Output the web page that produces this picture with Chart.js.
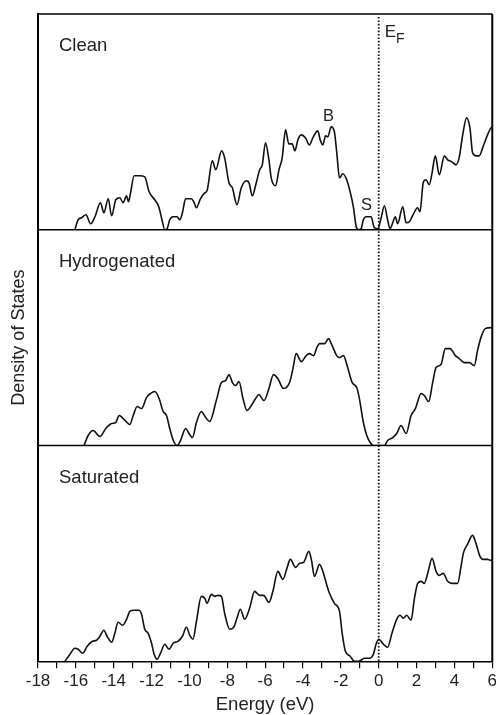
<!DOCTYPE html>
<html>
<head>
<meta charset="utf-8">
<title>Density of States</title>
<script src="https://cdn.jsdelivr.net/npm/chart.js@4.4.0/dist/chart.umd.min.js"></script>
<style>
	html, body { margin: 0; padding: 0; background: #fff; overflow: hidden; }
	#chart-wrap { width: 500px; height: 715px; position: relative; }
</style>
</head>
<body>
<div id="chart-wrap"><canvas id="dos-chartcanvas"></canvas></div>
<script>
"use strict";

// energy axis (eV)
var energyMin = -18;
var energyMax = 6;
var energyStep = 1;

// panel names, top to bottom
var panelNames = ["Clean", "Hydrogenated", "Saturated"];

// Clean surface
var cleanEnergy = [-16.05, -15.88, -15.7, -15.47, -15.22, -14.99, -14.7, -14.52, -14.29, -14.11,
	-13.89, -13.68, -13.5, -13.32, -13.22, -13.11, -12.92, -12.62, -12.36, -12.13,
	-11.83, -11.62, -11.45, -11.3, -11.18, -11.04, -10.86, -10.65, -10.51, -10.37,
	-10.2, -9.9, -9.77, -9.63, -9.42, -9.19, -9.07, -8.79, -8.61, -8.3,
	-8.14, -7.91, -7.73, -7.49, -7.26, -6.99, -6.85, -6.68, -6.47, -6.29,
	-6.15, -5.98, -5.8, -5.68, -5.45, -5.27, -5.1, -4.92, -4.75, -4.57,
	-4.43, -4.27, -4.09, -3.87, -3.66, -3.48, -3.22, -3.09, -2.95, -2.81,
	-2.69, -2.51, -2.34, -2.22, -2.07, -1.9, -1.69, -1.51, -1.33, -1.19,
	-1.05, -0.93, -0.81, -0.66, -0.4, -0.23, -0.05, 0.13, 0.3, 0.47,
	0.6, 0.74, 0.88, 1.0, 1.27, 1.45, 1.62, 1.79, 2.06, 2.18,
	2.36, 2.5, 2.67, 2.82, 2.99, 3.2, 3.47, 3.64, 3.87, 4.08,
	4.26, 4.43, 4.64, 4.82, 4.96, 5.14, 5.31, 5.49, 5.75, 5.93, 6.0];
var cleanDos = [0, 1.0, 1.2, 1.5, 0.6, 1.3, 2.7, 1.7, 3.1, 1.4,
	3.0, 3.2, 2.7, 3.4, 2.8, 3.7, 5.4, 5.4, 5.3, 3.8,
	3.0, 2.3, 1.0, 0, 0.1, 1.0, 1.3, 1.3, 1.0, 1.7,
	3.1, 3.1, 2.8, 2.2, 3.1, 3.7, 3.9, 6.9, 6.0, 7.9,
	7.2, 4.7, 4.2, 2.5, 4.2, 4.9, 4.7, 3.4, 4.7, 6.0,
	6.5, 8.7, 7.0, 5.2, 4.4, 6.0, 7.2, 10.0, 8.6, 8.6,
	7.9, 9.0, 9.5, 9.2, 8.5, 9.2, 9.9, 9.0, 8.5, 9.4,
	9.3, 10.3, 9.8, 7.8, 5.2, 5.6, 5.0, 3.8, 2.2, 0.3,
	0, 0.1, 1.0, 1.3, 1.3, 0.2, 0.1, 1.2, 2.4, 1.0,
	0.1, 0.7, 1.3, 0.6, 2.3, 0.7, 0.8, 1.4, 2.2, 1.8,
	4.8, 5.0, 4.5, 5.7, 7.4, 5.5, 7.4, 7.0, 6.8, 6.5,
	7.3, 9.4, 11.2, 10.2, 7.7, 7.4, 7.4, 8.2, 9.5, 10.2, 10.3];

// Hydrogenated surface
var hydroEnergy = [-15.57, -15.35, -15.09, -14.73, -14.42, -14.11, -13.89, -13.71, -13.5, -13.15,
	-12.97, -12.76, -12.53, -12.27, -12.06, -11.83, -11.6, -11.39, -11.21, -11.04,
	-10.83, -10.65, -10.47, -10.2, -10.02, -9.84, -9.63, -9.37, -9.14, -8.93,
	-8.58, -8.31, -8.09, -7.91, -7.73, -7.56, -7.38, -7.17, -6.96, -6.73,
	-6.5, -6.33, -6.06, -5.8, -5.56, -5.33, -5.03, -4.71, -4.53, -4.36,
	-4.09, -3.83, -3.66, -3.44, -3.27, -3.13, -2.86, -2.65, -2.46, -2.22,
	-2.07, -1.86, -1.64, -1.4, -1.16, -1.02, -0.81, -0.63, -0.45, -0.28,
	0.3, 0.47, 0.74, 0.95, 1.18, 1.45, 1.71, 1.94, 2.24, 2.41,
	2.64, 2.85, 3.03, 3.29, 3.52, 3.77, 4.05, 4.26, 4.52, 4.79,
	5.05, 5.22, 5.4, 5.63, 5.93, 6.0];
var hydroDos = [0, 1.0, 1.5, 0.9, 1.7, 2.2, 2.3, 3.0, 2.7, 2.1,
	3.0, 3.9, 3.7, 4.8, 5.2, 5.4, 4.7, 3.4, 3.0, 1.7,
	0.4, 0, 0.5, 1.7, 1.2, 0.8, 2.3, 3.4, 2.8, 2.4,
	4.5, 6.3, 6.5, 7.1, 6.3, 6.0, 6.4, 4.7, 3.5, 4.0,
	4.7, 5.1, 4.5, 5.7, 7.1, 6.7, 5.7, 6.3, 7.7, 9.2,
	8.4, 9.0, 9.2, 9.0, 9.8, 10.2, 10.2, 10.7, 10.0, 9.0,
	8.8, 9.0, 7.8, 6.3, 5.8, 4.7, 2.3, 1.0, 0.3, 0,
	0, 0.5, 0.8, 1.2, 2.0, 1.2, 3.0, 3.7, 5.2, 5.0,
	4.4, 6.3, 7.8, 8.1, 9.7, 9.7, 9.0, 8.7, 8.3, 8.3,
	8.0, 9.5, 10.8, 11.7, 11.8, 11.8];

// Saturated surface
var satEnergy = [-16.58, -16.31, -16.05, -15.88, -15.64, -15.4, -15.12, -14.91, -14.73, -14.52,
	-14.35, -14.11, -13.94, -13.77, -13.53, -13.32, -13.15, -12.94, -12.66, -12.53,
	-12.36, -12.18, -12.0, -11.88, -11.71, -11.53, -11.3, -11.08, -10.86, -10.6,
	-10.37, -10.16, -9.98, -9.81, -9.63, -9.37, -9.19, -9.07, -8.84, -8.66,
	-8.49, -8.31, -8.14, -7.87, -7.66, -7.49, -7.31, -7.08, -6.82, -6.56,
	-6.29, -6.08, -5.8, -5.59, -5.33, -5.06, -4.85, -4.67, -4.39, -4.18,
	-3.97, -3.69, -3.56, -3.39, -3.13, -2.95, -2.77, -2.6, -2.34, -2.07,
	-1.93, -1.76, -1.51, -1.28, -1.05, -0.75, -0.49, -0.28, -0.14, 0.0,
	0.25, 0.47, 0.7, 0.95, 1.13, 1.3, 1.48, 1.71, 1.88, 2.06,
	2.24, 2.41, 2.59, 2.82, 3.03, 3.2, 3.41, 3.64, 3.87, 4.17,
	4.35, 4.47, 4.69, 4.96, 5.14, 5.35, 5.52, 5.75, 5.93, 6.0];
var satDos = [0, 0.7, 1.3, 1.2, 0.8, 1.5, 2.0, 2.1, 2.5, 3.1,
	2.5, 1.9, 2.8, 3.9, 3.6, 4.2, 5.0, 5.1, 5.1, 4.7,
	3.2, 2.8, 1.8, 0.8, 0.2, 0.8, 1.7, 1.2, 1.8, 2.0,
	2.5, 3.4, 2.6, 2.2, 4.0, 6.5, 6.3, 5.8, 6.7, 6.5,
	6.6, 6.5, 4.8, 3.2, 3.4, 4.3, 5.2, 4.2, 5.3, 7.0,
	6.6, 6.6, 5.9, 7.0, 9.0, 8.2, 9.3, 10.2, 9.4, 9.8,
	9.9, 11.0, 10.2, 8.5, 9.7, 9.0, 7.8, 6.8, 5.8, 5.0,
	2.8, 1.0, 0.5, 0, 0, 0.3, 0.3, 0.7, 1.7, 2.2,
	1.7, 1.4, 2.8, 4.2, 4.6, 4.3, 4.6, 4.1, 6.2, 7.8,
	8.0, 7.8, 8.8, 10.3, 9.0, 8.6, 8.8, 8.0, 7.8, 7.8,
	9.5, 10.8, 11.7, 12.6, 11.8, 10.5, 10.2, 10.2, 10.1, 10.1];

// top of each panel's DOS scale
var dosMax = 21.6;

// peak labels on the clean spectrum: [text, energy, dos]
var peakLabels = [["B", -2.65, 10.9], ["S", -0.65, 2.0]];

var fontFamily = "'Liberation Sans', Arial, Helvetica, sans-serif";
Chart.defaults.font.family = fontFamily;
Chart.defaults.color = "#222";

// turn two arrays into {x, y} points
function toPoints(energy, dos) {
	var pts = [];
	for (var i = 0; i < energy.length; i++) {
		pts.push({ x: energy[i], y: dos[i] });
	}
	return pts;
}

function dosDataset(name, energy, dos, axisId) {
	return {
		label: name,
		data: toPoints(energy, dos),
		yAxisID: axisId,
		borderColor: "#111",
		borderWidth: 1.6,
		pointRadius: 0,
		fill: false,
		cubicInterpolationMode: "monotone"
	};
}

// one stacked y axis per panel
function panelAxis(weight, withTitle) {
	return {
		type: "linear",
		position: "left",
		stack: "dos",
		stackWeight: 1,
		weight: weight,
		min: 0,
		max: dosMax,
		offset: false,
		grid: { display: false, drawTicks: false, tickLength: 0 },
		border: { display: true, color: "#000", width: 2 },
		ticks: { display: false },
		title: {
			display: withTitle,
			text: "Density of States",
			color: "#222",
			font: { size: 18 },
			padding: { top: 4.5, bottom: 7.9 }
		}
	};
}

var axisIds = ["yClean", "yHydro", "ySat"];

// frame, Fermi level, panel names and peak labels
var dosDecor = {
	id: "dosDecor",
	afterDatasetsDraw: function(chart) {
		var ctx = chart.ctx;
		var area = chart.chartArea;
		var xScale = chart.scales.x;
		ctx.save();

		ctx.strokeStyle = "#000";
		ctx.lineWidth = 1.5;
		ctx.beginPath();
		ctx.moveTo(area.left, area.top);
		ctx.lineTo(area.right, area.top);
		for (var i = 0; i < axisIds.length - 1; i++) {
			var yb = chart.scales[axisIds[i]].getPixelForValue(0);
			ctx.moveTo(area.left, yb);
			ctx.lineTo(area.right, yb);
		}
		ctx.stroke();

		ctx.lineWidth = 2;
		ctx.beginPath();
		ctx.moveTo(area.right, area.top);
		ctx.lineTo(area.right, area.bottom);
		ctx.stroke();

		// Fermi level
		var x0 = xScale.getPixelForValue(0);
		ctx.strokeStyle = "#111";
		ctx.lineWidth = 1.8;
		ctx.setLineDash([1.6, 1.8]);
		ctx.beginPath();
		ctx.moveTo(x0, area.top + 3);
		ctx.lineTo(x0, area.bottom);
		ctx.stroke();
		ctx.setLineDash([]);

		ctx.fillStyle = "#222";
		ctx.textBaseline = "alphabetic";
		ctx.textAlign = "left";
		ctx.font = "17px " + fontFamily;
		ctx.fillText("E", x0 + 6, area.top + 23);
		var eWidth = ctx.measureText("E").width;
		ctx.font = "14px " + fontFamily;
		ctx.fillText("F", x0 + 6 + eWidth, area.top + 28.5);

		// panel names
		ctx.font = "18.5px " + fontFamily;
		for (var j = 0; j < axisIds.length; j++) {
			var sc = chart.scales[axisIds[j]];
			ctx.fillText(panelNames[j], area.left + 21, sc.top + 37);
		}

		// peak labels
		var yClean = chart.scales.yClean;
		ctx.font = "16.5px " + fontFamily;
		ctx.textAlign = "center";
		for (var k = 0; k < peakLabels.length; k++) {
			ctx.fillText(peakLabels[k][0],
				xScale.getPixelForValue(peakLabels[k][1]),
				yClean.getPixelForValue(peakLabels[k][2]));
		}
		ctx.restore();
	}
};

var dosCtx = document.getElementById("dos-chartcanvas");

var dosChart = new Chart(dosCtx, {
	type: "line",
	data: {
		datasets: [
			dosDataset(panelNames[0], cleanEnergy, cleanDos, "yClean"),
			dosDataset(panelNames[1], hydroEnergy, hydroDos, "yHydro"),
			dosDataset(panelNames[2], satEnergy, satDos, "ySat")
		]
	},
	options: {
		responsive: true,
		maintainAspectRatio: false,
		animation: false,
		layout: { padding: { top: 14, left: 4, right: 3, bottom: 0 } },
		plugins: {
			legend: { display: false },
			tooltip: { enabled: false }
		},
		scales: {
			x: {
				type: "linear",
				position: "bottom",
				min: energyMin,
				max: energyMax,
				grid: {
					display: true,
					drawOnChartArea: false,
					drawTicks: true,
					tickLength: 7,
					color: "#000",
					lineWidth: 1.2
				},
				border: { display: true, color: "#000", width: 1.5 },
				ticks: {
					stepSize: energyStep,
					autoSkip: false,
					maxRotation: 0,
					padding: 3,
					color: "#222",
					font: { size: 17 },
					callback: function(value) {
						return value % 2 === 0 ? String(value) : "";
					}
				},
				title: {
					display: true,
					text: "Energy (eV)",
					color: "#222",
					font: { size: 18.5, lineHeight: 1.1 },
					padding: { top: 0, bottom: 0 }
				}
			},
			yClean: panelAxis(3, false),
			yHydro: panelAxis(2, true),
			ySat: panelAxis(1, false)
		}
	},
	plugins: [dosDecor]
});
</script>
</body>
</html>
